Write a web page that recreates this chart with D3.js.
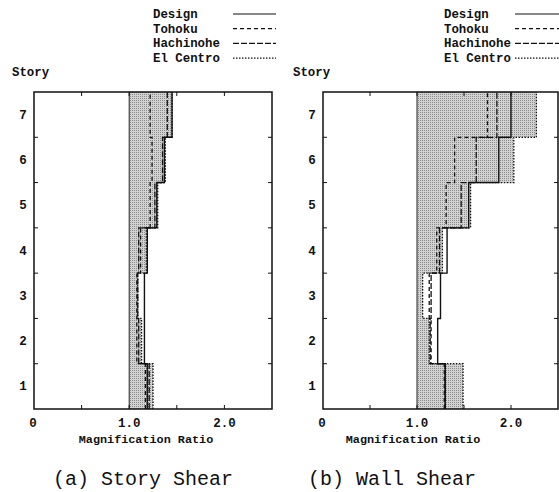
<!DOCTYPE html>
<html>
<head>
<meta charset="utf-8">
<script src="https://cdn.jsdelivr.net/npm/d3@7"></script>
<style>
  body { margin: 0; background: #fff; }
  text { font-family: "Liberation Mono", "DejaVu Sans Mono", monospace; fill: #111; }
</style>
</head>
<body>
<script>
(function(){

//chart data
var stories = [1, 2, 3, 4, 5, 6, 7];
var seriesNames = ["Design", "Tohoku", "Hachinohe", "El Centro"];
var xTickValues = [0, 1, 2];
var xTickLabels = ["0", "1.0", "2.0"];

//(a) story shear, stories 1..7
var storyDesign    = [1.19, 1.16, 1.16, 1.19, 1.29, 1.37, 1.45];
var storyTohoku    = [1.17, 1.08, 1.08, 1.12, 1.22, 1.24, 1.22];
var storyHachinohe = [1.21, 1.10, 1.09, 1.10, 1.27, 1.35, 1.40];
var storyElCentro  = [1.25, 1.13, 1.09, 1.18, 1.30, 1.38, 1.45];

//(b) wall shear, stories 1..7
var wallDesign    = [1.30, 1.22, 1.25, 1.32, 1.55, 1.87, 2.00];
var wallTohoku    = [1.29, 1.15, 1.13, 1.21, 1.31, 1.40, 1.75];
var wallHachinohe = [1.30, 1.14, 1.15, 1.24, 1.47, 1.63, 1.85];
var wallElCentro  = [1.49, 1.13, 1.06, 1.27, 1.57, 2.03, 2.27];

//dash pattern per series
var dashes = ["none", "4,3", "6,2", "1.5,1.5"];

var width = 559,
    height = 492,
    top = 92,
    bottom = 409;

var svg = d3.select("body")
    .append("svg")
    .attr("width", width)
    .attr("height", height);

//stipple pattern for the shaded band
var pat = svg.append("defs").append("pattern")
    .attr("id", "stipple")
    .attr("width", 2)
    .attr("height", 2)
    .attr("patternUnits", "userSpaceOnUse");
pat.append("rect").attr("width", 2).attr("height", 2).attr("fill", "#d2d2d2");
pat.append("rect").attr("width", 1).attr("height", 1).attr("fill", "#8c8c8c");

var panels = [
    {x0: 34, x1: 272, legText: 153, legLine: [233, 276], storyX: 12, labelX: 146, titleX: 143,
     title: "(a) Story Shear", data: [storyDesign, storyTohoku, storyHachinohe, storyElCentro]},
    {x0: 323, x1: 558, legText: 444, legLine: [515, 559], storyX: 293, labelX: 413, titleX: 392,
     title: "(b) Wall Shear", data: [wallDesign, wallTohoku, wallHachinohe, wallElCentro]}
];

panels.forEach(drawPanel);

function stepPoints(values){
    //each story is a vertical run from s-0.5 to s+0.5
    var pts = [];
    stories.forEach(function(s, i){
        pts.push({s: s - 0.5, v: values[i]});
        pts.push({s: s + 0.5, v: values[i]});
    });
    return pts;
};

function drawPanel(p){
    var x = d3.scaleLinear().domain([0, 2.5]).range([p.x0, p.x1]);
    var y = d3.scaleLinear().domain([0.5, 7.5]).range([bottom, top]);
    var g = svg.append("g");

    //shaded band from 1.0 to El Centro
    var area = d3.area()
        .y(function(d){ return y(d.s); })
        .x0(x(1))
        .x1(function(d){ return x(d.v); });
    g.append("path")
        .attr("d", area(stepPoints(p.data[3])))
        .attr("fill", "url(#stipple)");

    g.append("line")
        .attr("x1", x(1)).attr("x2", x(1))
        .attr("y1", y(0.5)).attr("y2", y(7.5))
        .attr("stroke", "#222").attr("stroke-width", 1);

    //series step lines
    var line = d3.line()
        .x(function(d){ return x(d.v); })
        .y(function(d){ return y(d.s); });
    p.data.forEach(function(vals, i){
        g.append("path")
            .attr("d", line(stepPoints(vals)))
            .attr("fill", "none")
            .attr("stroke", "#111")
            .attr("stroke-width", i == 0 ? 1.4 : 1.3)
            .attr("stroke-dasharray", dashes[i]);
    });

    //frame
    g.append("rect")
        .attr("x", p.x0).attr("y", top)
        .attr("width", p.x1 - p.x0).attr("height", bottom - top)
        .attr("fill", "none").attr("stroke", "#111").attr("stroke-width", 1.5);

    //inward ticks
    [0.5, 1, 1.5, 2].forEach(function(t){
        g.append("line").attr("x1", x(t)).attr("x2", x(t)).attr("y1", bottom).attr("y2", bottom - 4)
            .attr("stroke", "#111");
        g.append("line").attr("x1", x(t)).attr("x2", x(t)).attr("y1", top).attr("y2", top + 4)
            .attr("stroke", "#111");
    });
    d3.range(1.5, 7, 1).forEach(function(t){
        g.append("line").attr("x1", p.x0).attr("x2", p.x0 + 4).attr("y1", y(t)).attr("y2", y(t))
            .attr("stroke", "#111");
        g.append("line").attr("x1", p.x1).attr("x2", p.x1 - 4).attr("y1", y(t)).attr("y2", y(t))
            .attr("stroke", "#111");
    });

    //tick labels
    xTickValues.forEach(function(t, i){
        g.append("text")
            .attr("x", x(t) - (t == 0 ? 1 : 0))
            .attr("y", 427)
            .attr("text-anchor", "middle")
            .style("font-size", "12.5px")
            .style("font-weight", "bold")
            .text(xTickLabels[i]);
    });
    stories.forEach(function(s){
        g.append("text")
            .attr("x", p.x0 - 11)
            .attr("y", y(s) + 4)
            .attr("text-anchor", "middle")
            .style("font-size", "12.5px")
            .style("font-weight", "bold")
            .text(s);
    });

    g.append("text")
        .attr("x", p.labelX).attr("y", 443)
        .attr("text-anchor", "middle")
        .style("font-size", "11.8px")
        .style("font-weight", "bold")
        .text("Magnification Ratio");

    g.append("text")
        .attr("x", p.storyX).attr("y", 76)
        .style("font-size", "12.4px")
        .style("font-weight", "bold")
        .text("Story");

    //legend
    seriesNames.forEach(function(name, i){
        var ly = 14 + i * 14.7;
        g.append("text")
            .attr("x", p.legText).attr("y", ly + 4)
            .style("font-size", "12.4px")
            .style("font-weight", "bold")
            .text(name);
        g.append("line")
            .attr("x1", p.legLine[0]).attr("x2", p.legLine[1])
            .attr("y1", ly).attr("y2", ly)
            .attr("stroke", "#111").attr("stroke-width", 1.2)
            .attr("stroke-dasharray", dashes[i]);
    });

    //panel caption
    g.append("text")
        .attr("x", p.titleX).attr("y", 485)
        .attr("text-anchor", "middle")
        .style("font-size", "20px")
        .text(p.title);
};

})();
</script>
</body>
</html>
